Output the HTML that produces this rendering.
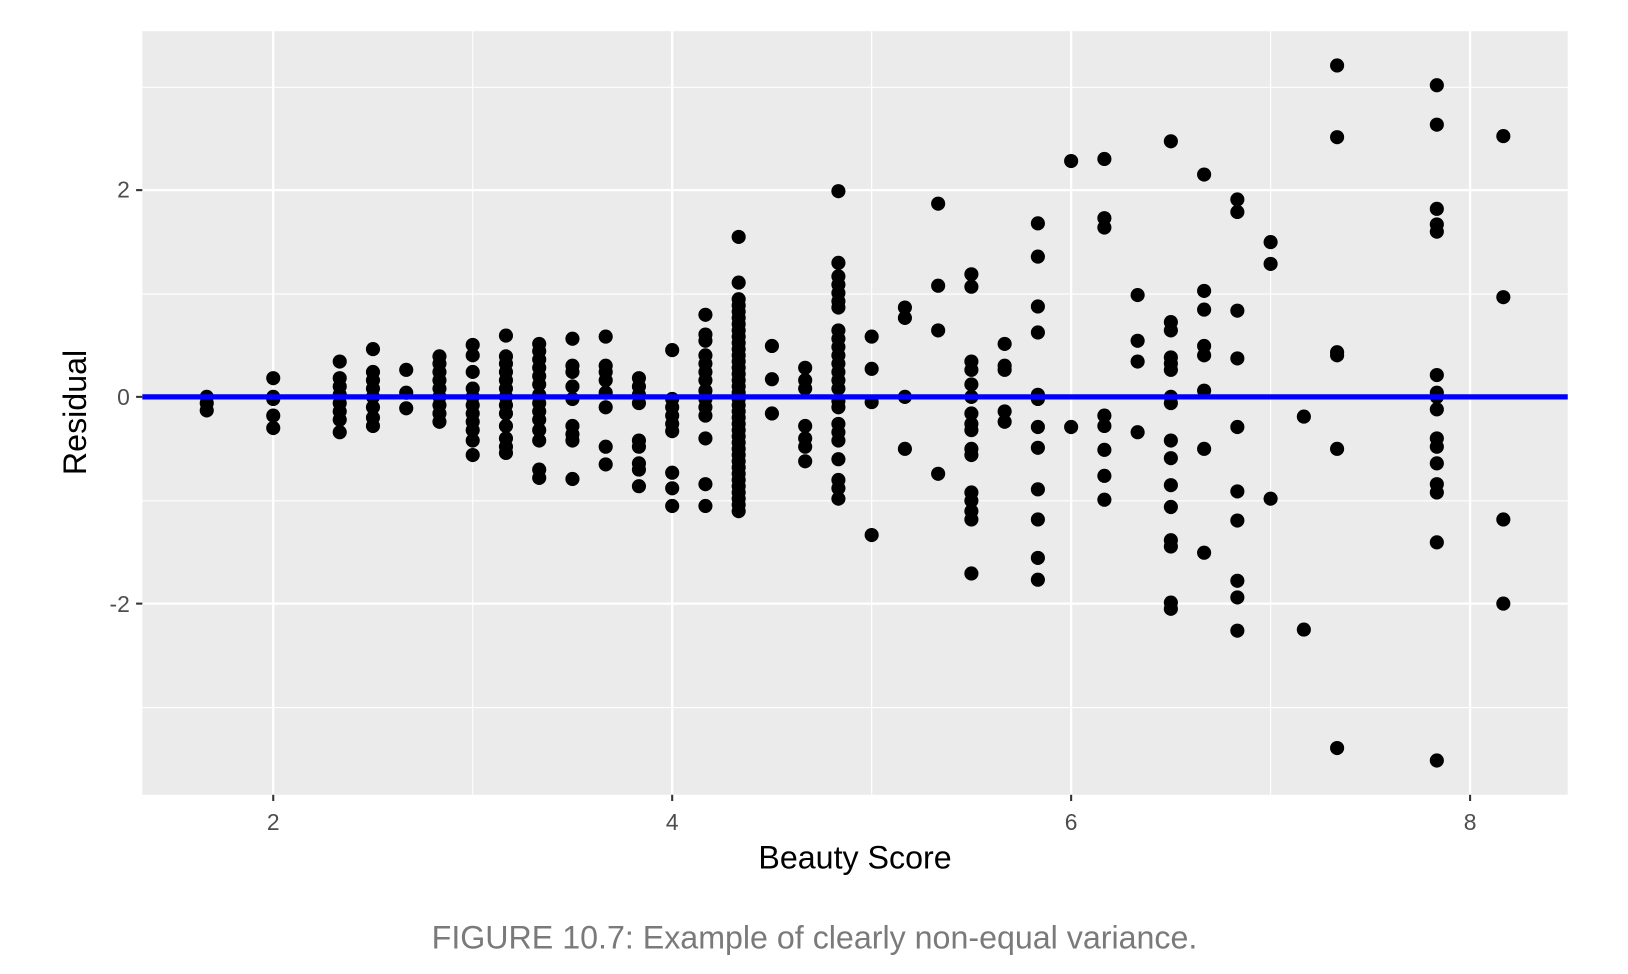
<!DOCTYPE html>
<html><head><meta charset="utf-8"><style>
html,body{margin:0;padding:0;background:#fff;width:1628px;height:974px;overflow:hidden}
svg{display:block}
text{font-family:"Liberation Sans",Arial,sans-serif}
</style></head><body>
<svg id="s" width="1628" height="974" viewBox="0 0 1567 937.5" xmlns="http://www.w3.org/2000/svg">
<rect x="137" y="30" width="1372" height="735" fill="#ebebeb"/>
<g stroke="#fff" stroke-width="1.1">
<line x1="455" y1="30" x2="455" y2="765"/><line x1="839" y1="30" x2="839" y2="765"/><line x1="1223" y1="30" x2="1223" y2="765"/>
<line x1="137" y1="84" x2="1509" y2="84"/><line x1="137" y1="283" x2="1509" y2="283"/><line x1="137" y1="482" x2="1509" y2="482"/><line x1="137" y1="681" x2="1509" y2="681"/>
</g>
<g stroke="#fff" stroke-width="2.2">
<line x1="263" y1="30" x2="263" y2="765"/><line x1="647" y1="30" x2="647" y2="765"/><line x1="1031" y1="30" x2="1031" y2="765"/><line x1="1415" y1="30" x2="1415" y2="765"/>
<line x1="137" y1="183" x2="1509" y2="183"/><line x1="137" y1="382" x2="1509" y2="382"/><line x1="137" y1="581" x2="1509" y2="581"/>
</g>
<g id="pts" fill="#000"></g>
<line x1="137" y1="382" x2="1509" y2="382" stroke="#0000ff" stroke-width="5"/>
<g stroke="#333" stroke-width="2">
<line x1="131" y1="183" x2="137" y2="183"/><line x1="131" y1="382" x2="137" y2="382"/><line x1="131" y1="581" x2="137" y2="581"/>
<line x1="263" y1="765" x2="263" y2="771"/><line x1="647" y1="765" x2="647" y2="771"/><line x1="1031" y1="765" x2="1031" y2="771"/><line x1="1415" y1="765" x2="1415" y2="771"/>
</g>
<g fill="#4d4d4d" font-size="22" text-anchor="end">
<text x="125" y="190">2</text><text x="125" y="390">0</text><text x="125" y="589">-2</text>
</g>
<g fill="#4d4d4d" font-size="22" text-anchor="middle">
<text x="263" y="799">2</text><text x="647" y="799">4</text><text x="1031" y="799">6</text><text x="1415" y="799">8</text>
</g>
<text x="823" y="836" font-size="31" text-anchor="middle" fill="#000">Beauty Score</text>
<text transform="translate(83,397) rotate(-90)" font-size="31" text-anchor="middle" fill="#000">Residual</text>
<text x="784" y="913" font-size="31" text-anchor="middle" fill="#7a7a7a">FIGURE 10.7: Example of clearly non-equal variance.</text>
</svg>
<script>
var d={199:[382,388,395],263:[364,382,384,400,412],327:[348,364,372,380,388,396,404,416],359:[336,358,366,374,382,392,402,410],391:[356,378,393],
423:[343,350,358,366,374,382,390,398,406],455:[332,342,358,374,382,390,398,406,414,424,438],487:[323,343,350,358,366,374,382,390,398,410,422,430,436],
519:[331,338,346,354,362,370,380,388,396,404,414,424,452,460],551:[326,352,358,372,384,410,418,424,461],583:[324,352,358,366,378,392,430,447],
615:[364,372,380,388,424,430,446,452,468],647:[337,384,392,400,408,415,455,470,487],679:[303,322,328,342,350,358,366,376,384,392,400,422,466,487],
711:[228,272],743:[333,365,398],775:[354,366,374,410,422,430,444],
807:[184,253,266,274,282,290,296,318,326,334,342,350,358,366,374,386,392,408,416,424,442,462,470,480],
839:[324,355,387,515],871:[296,306,382,432],903:[196,275,318,456],935:[264,276,348,356,370,382,398,408,414,432,438,474,482,492,500,552],
967:[331,352,356,396,406],999:[215,247,295,320,380,384,411,431,471,500,537,558],1031:[155,411],1063:[153,210,219,400,410,433,458,481],
1095:[284,328,348,416],1127:[136,310,318,344,350,356,382,388,424,441,467,488,520,526,580,586],1159:[168,280,298,333,342,376,432,532],
1191:[192,204,299,345,411,473,501,559,575,607],1223:[233,254,480],1255:[401,606],1287:[63,132,339,342,432,720],
1383:[82,120,201,216,223,361,378,382,394,422,430,446,466,474,522,732],1447:[131,286,500,581]};
for(var y=288;y<=496;y+=6)d[711].push(y);
var g=document.getElementById('pts'),h='';
for(var x in d){d[x].forEach(function(y){h+='<circle cx="'+x+'" cy="'+y+'" r="6.8"/>';});}
g.innerHTML=h;
</script>
</body></html>
